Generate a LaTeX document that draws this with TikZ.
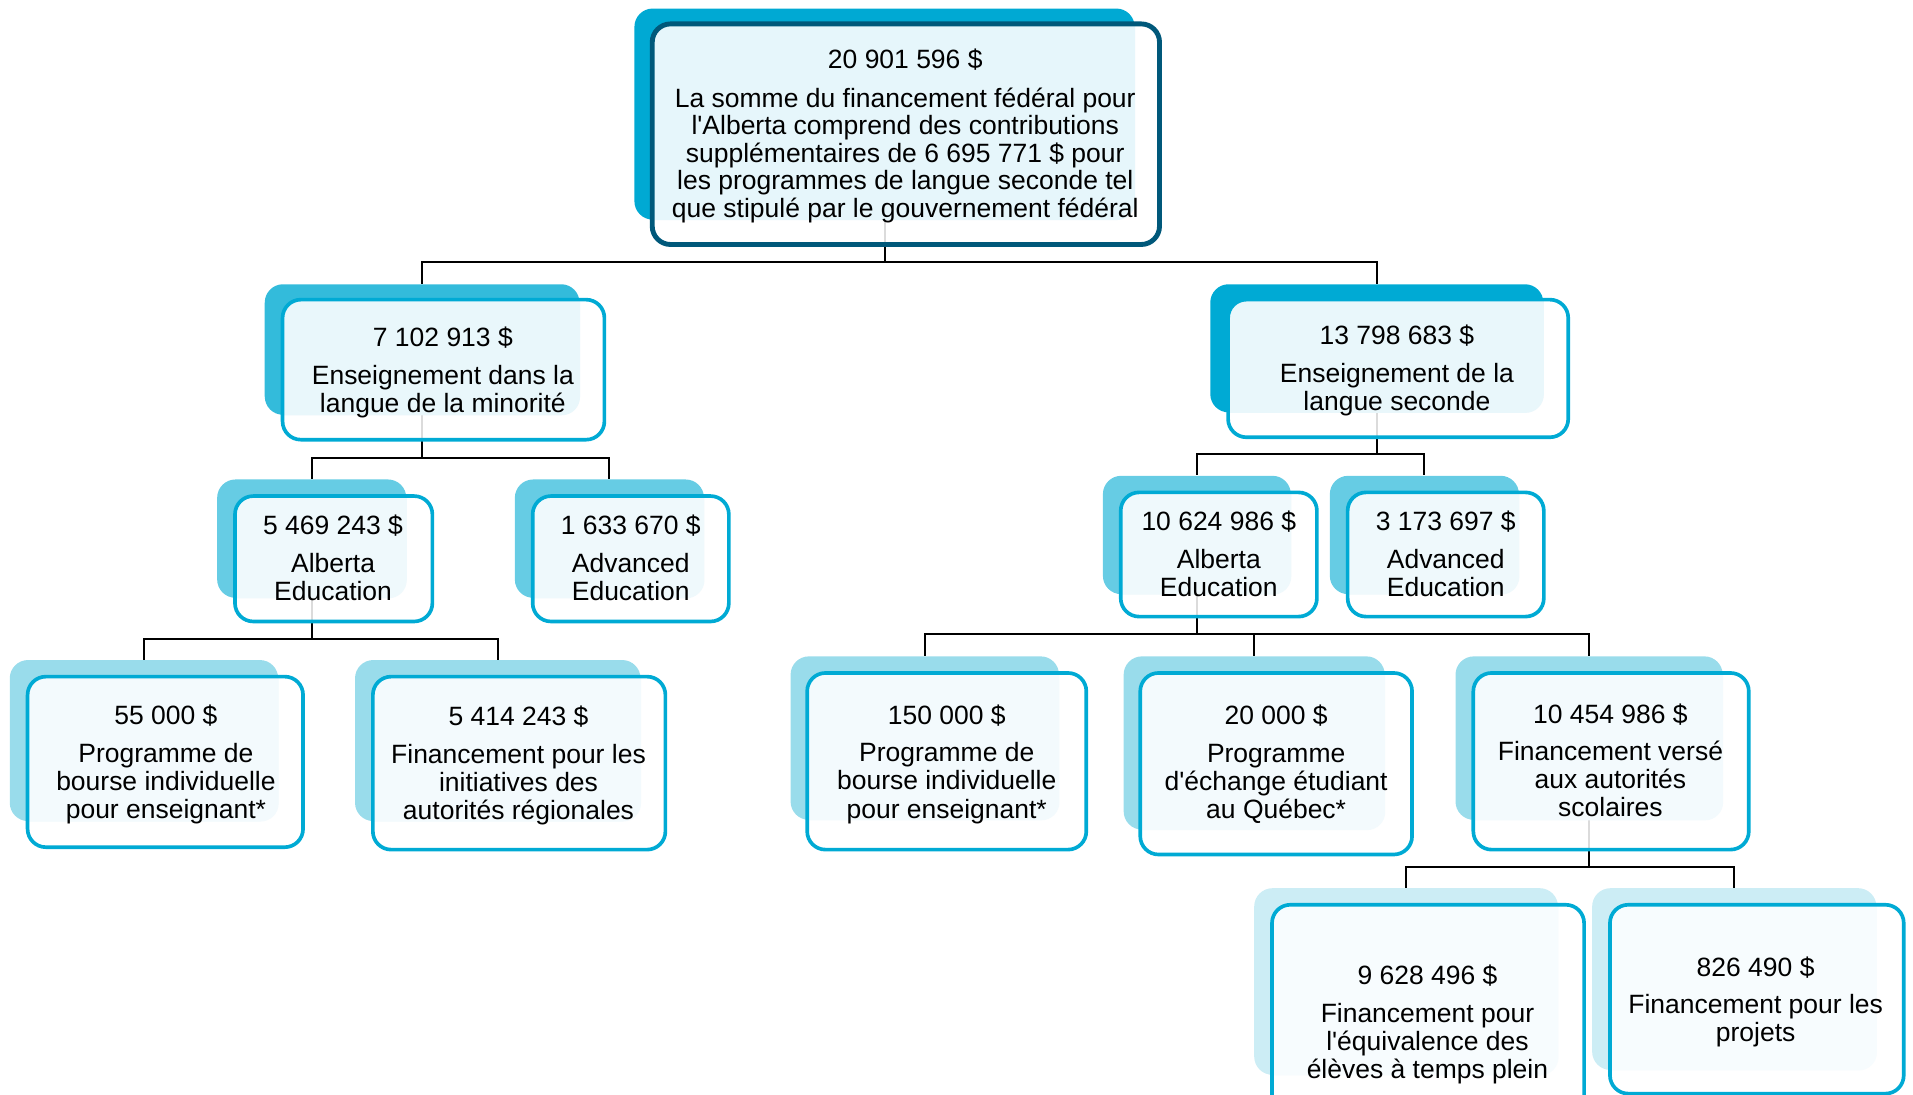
\documentclass[tikz,border=0pt]{standalone}
\usepackage{fontspec}
\setmainfont{Liberation Sans}
\usetikzlibrary{calc,fit}
\definecolor{topS}{RGB}{0,169,211}
\definecolor{laS}{RGB}{51,187,219}
\definecolor{lbS}{RGB}{0,170,212}
\definecolor{ltwoS}{RGB}{102,204,228}
\definecolor{lthreeS}{RGB}{153,220,235}
\definecolor{lfourS}{RGB}{204,237,245}
\definecolor{bord}{RGB}{0,170,212}
\definecolor{topbord}{RGB}{0,88,122}
\definecolor{inTop}{RGB}{230,246,251}
\definecolor{inOne}{RGB}{233,247,251}
\definecolor{inTwo}{RGB}{239,249,252}
\definecolor{inThree}{RGB}{243,250,253}
\definecolor{inFour}{RGB}{247,252,254}
\tikzset{
  conn/.style={draw=black, line width=0.8pt},
  shad/.style={rectangle, rounded corners=7.5pt, inner sep=0pt, draw=none},
  geo/.style={rectangle, inner sep=0pt, draw=none},
  lbl/.style={align=center, inner sep=0pt, yshift=-1.1pt, font=\fontsize{10.85}{11.5}\selectfont},
}
\newcommand\frontdraw[4]{%
  \fill[white, opacity=0.86, rounded corners=7.5pt] (#1F.south west) rectangle (#1F.north east);
  \begin{scope}
    \clip[rounded corners=7.5pt] (#1S.south west) rectangle (#1S.north east);
    \fill[#2, rounded corners=7.5pt] (#1F.south west) rectangle (#1F.north east);
  \end{scope}
  \draw[#3, line width=#4, rounded corners=7.5pt] (#1F.south west) rectangle (#1F.north east);
}
\begin{document}
\begin{tikzpicture}[x=0.5pt, y=-0.5pt]
\useasboundingbox (0,0) rectangle (1568,897.5);
\clip (0,0) rectangle (1568,897.5);
% shadows
\node[shad, fill=topS, fit={(520,7) (930,180)}] (tS) {};
\node[shad, fill=laS, fit={(217,233) (475,340)}] (aS) {};
\node[shad, fill=lbS, fit={(992,233) (1265,338)}] (bS) {};
\node[shad, fill=ltwoS, fit={(178,393) (333,490)}] (cS) {};
\node[shad, fill=ltwoS, fit={(422,393) (577,490)}] (dS) {};
\node[shad, fill=ltwoS, fit={(904,390) (1058,487)}] (eS) {};
\node[shad, fill=ltwoS, fit={(1090,390) (1245,487)}] (fS) {};
\node[shad, fill=lthreeS, fit={(8,541) (228,673)}] (gS) {};
\node[shad, fill=lthreeS, fit={(291,541) (525,673)}] (hS) {};
\node[shad, fill=lthreeS, fit={(648,538) (868,672)}] (iS) {};
\node[shad, fill=lthreeS, fit={(921,538) (1135,680)}] (jS) {};
\node[shad, fill=lthreeS, fit={(1193,538) (1412,672)}] (kS) {};
\node[shad, fill=lfourS, fit={(1028,728) (1277,881)}] (lS) {};
\node[shad, fill=lfourS, fit={(1305,728) (1538,877)}] (mS) {};
% front geometry
\node[geo, fit={(535,20) (950,200)}] (tF) {};
\node[geo, fit={(232,246) (495,360)}] (aF) {};
\node[geo, fit={(1007,246) (1285,358)}] (bF) {};
\node[geo, fit={(193,407) (354,509)}] (cF) {};
\node[geo, fit={(437,407) (597,509)}] (dF) {};
\node[geo, fit={(919,404) (1079,505)}] (eF) {};
\node[geo, fit={(1105,404) (1265,505)}] (fF) {};
\node[geo, fit={(23,555) (248,694)}] (gF) {};
\node[geo, fit={(306,555) (545,696)}] (hF) {};
\node[geo, fit={(662,552) (890,696)}] (iF) {};
\node[geo, fit={(935,552) (1157,700)}] (jF) {};
\node[geo, fit={(1208,552) (1433,696)}] (kF) {};
\node[geo, fit={(1043,742) (1298,915)}] (lF) {};
\node[geo, fit={(1320,742) (1560,896)}] (mF) {};
% connectors
\coordinate (barT) at ($(tF.south)+(0,14)$);
\draw[conn] (tS.south) -- (tS.south |- barT) -| (aS.north);
\draw[conn] (tS.south |- barT) -| (bS.north);
\coordinate (barA) at ($(aF.south)+(0,15)$);
\draw[conn] (aS.south) -- (aS.south |- barA) -| (cS.north);
\draw[conn] (aS.south |- barA) -| (dS.north);
\coordinate (barB) at ($(bF.south)+(0,14)$);
\draw[conn] (bS.south) -- (bS.south |- barB) -| (eS.north);
\draw[conn] (bS.south |- barB) -| (fS.north);
\coordinate (barC) at ($(cF.south)+(0,14)$);
\draw[conn] (cS.south) -- (cS.south |- barC) -| (gS.north);
\draw[conn] (cS.south |- barC) -| (hS.north);
\coordinate (barE) at ($(eF.south)+(0,14)$);
\draw[conn] (eS.south) -- (eS.south |- barE) -| (iS.north);
\draw[conn] (eS.south |- barE) -| (jS.north);
\draw[conn] (eS.south |- barE) -| (kS.north);
\coordinate (barK) at ($(kF.south)+(0,14)$);
\draw[conn] (kS.south) -- (kS.south |- barK) -| (lS.north);
\draw[conn] (kS.south |- barK) -| (mS.north);
% fronts
\frontdraw{t}{inTop}{topbord}{2pt}
\frontdraw{a}{inOne}{bord}{1.5pt}
\frontdraw{b}{inOne}{bord}{1.5pt}
\frontdraw{c}{inTwo}{bord}{1.5pt}
\frontdraw{d}{inTwo}{bord}{1.5pt}
\frontdraw{e}{inTwo}{bord}{1.5pt}
\frontdraw{f}{inTwo}{bord}{1.5pt}
\frontdraw{g}{inThree}{bord}{1.5pt}
\frontdraw{h}{inThree}{bord}{1.5pt}
\frontdraw{i}{inThree}{bord}{1.5pt}
\frontdraw{j}{inThree}{bord}{1.5pt}
\frontdraw{k}{inThree}{bord}{1.5pt}
\frontdraw{l}{inFour}{bord}{1.5pt}
\frontdraw{m}{inFour}{bord}{1.5pt}
% texts
\node[lbl, font=\fontsize{10.85}{11.25}\selectfont] (tT) at (742,109) {20 901 596 \$\\[4.75pt]La somme du financement fédéral pour\\l\textquotesingle Alberta comprend des contributions\\supplémentaires de 6 695 771 \$ pour\\les programmes de langue seconde tel\\que stipulé par le gouvernement fédéral};
\node[lbl] (aT) at (363,303) {7 102 913 \$\\[4pt]Enseignement dans la\\langue de la minorité};
\node[lbl] (bT) at (1145,301.5) {13 798 683 \$\\[4pt]Enseignement de la\\langue seconde};
\node[lbl] (cT) at (273,455) {5 469 243 \$\\[4pt]Alberta\\Education};
\node[lbl] (dT) at (517,455) {1 633 670 \$\\[4pt]Advanced\\Education};
\node[lbl] (eT) at (999,452) {10 624 986 \$\\[4pt]Alberta\\Education};
\node[lbl] (fT) at (1185,452) {3 173 697 \$\\[4pt]Advanced\\Education};
\node[lbl] (gT) at (136,624.5) {55 000 \$\\[4pt]Programme de\\bourse individuelle\\pour enseignant*};
\node[lbl] (hT) at (425,625.5) {5 414 243 \$\\[4pt]Financement pour les\\initiatives des\\autorités régionales};
\node[lbl] (iT) at (776,624) {150 000 \$\\[4pt]Programme de\\bourse individuelle\\pour enseignant*};
\node[lbl] (jT) at (1046,624.5) {20 000 \$\\[4pt]Programme\\d\textquotesingle échange étudiant\\au Québec*};
\node[lbl] (kT) at (1320,621) {10 454 986 \$\\[4pt]Financement versé\\aux autorités\\scolaires};
\node[lbl] (lT) at (1170,837.5) {9 628 496 \$\\[4pt]Financement pour\\l\textquotesingle équivalence des\\élèves à temps plein};
\node[lbl] (mT) at (1439,819) {826 490 \$\\[4pt]Financement pour les\\projets};
\end{tikzpicture}
\end{document}
